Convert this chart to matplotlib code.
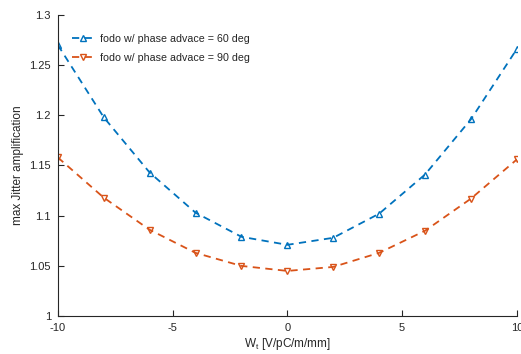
import numpy as np
import matplotlib
matplotlib.use("Agg")
import matplotlib.pyplot as plt
from matplotlib.ticker import FuncFormatter

plt.rcParams['font.family'] = ['Liberation Sans', 'DejaVu Sans']
plt.rcParams['axes.unicode_minus'] = False

# data
wt = [-10, -8, -6, -4, -2, 0, 2, 4, 6, 8, 10]
amp_60 = [1.270, 1.198, 1.143, 1.103, 1.079, 1.071, 1.078, 1.102, 1.141, 1.196, 1.266]
amp_90 = [1.158, 1.118, 1.086, 1.063, 1.050, 1.045, 1.049, 1.063, 1.085, 1.117, 1.156]

blue = '#0072BD'
orange = '#D95319'

fig = plt.figure(figsize=(5.21, 3.54), dpi=100)
ax = fig.add_axes([0.111, 0.107, 0.881, 0.851])

ax.plot(wt, amp_60, color=blue, linestyle=(0, (4, 3)), marker='^', markersize=4.5,
        markerfacecolor='none', markeredgewidth=1.0, linewidth=1.3,
        label='fodo w/ phase advace = 60 deg')
ax.plot(wt, amp_90, color=orange, linestyle=(0, (4, 3)), marker='v', markersize=4.5,
        markerfacecolor='none', markeredgewidth=1.0, linewidth=1.3,
        label='fodo w/ phase advace = 90 deg')

ax.set_xlim(-10, 10)
ax.set_ylim(1, 1.3)
ax.set_xticks([-10, -5, 0, 5, 10])
ax.set_yticks(np.arange(1, 1.301, 0.05))
ax.yaxis.set_major_formatter(FuncFormatter(lambda v, p: '%g' % round(v, 2)))

for s in ['top', 'right']:
    ax.spines[s].set_visible(False)
for s in ['left', 'bottom']:
    ax.spines[s].set_color('#262626')
    ax.spines[s].set_linewidth(0.8)
ax.tick_params(direction='in', length=4, width=0.8, colors='#262626',
               labelsize=8, pad=5)

ax.set_xlabel('W$_\\mathregular{t}$ [V/pC/m/mm]', fontsize=8.5, color='#262626', labelpad=2)
ax.set_ylabel('max Jitter amplification', fontsize=8.5, color='#262626', labelpad=4)

leg = ax.legend(loc='upper left', bbox_to_anchor=(0.01, 0.97), frameon=False,
                fontsize=7.7, handlelength=2.0, handletextpad=0.6, labelspacing=0.85)
for t in leg.get_texts():
    t.set_color('#262626')

fig.savefig('out.png', dpi=100)
